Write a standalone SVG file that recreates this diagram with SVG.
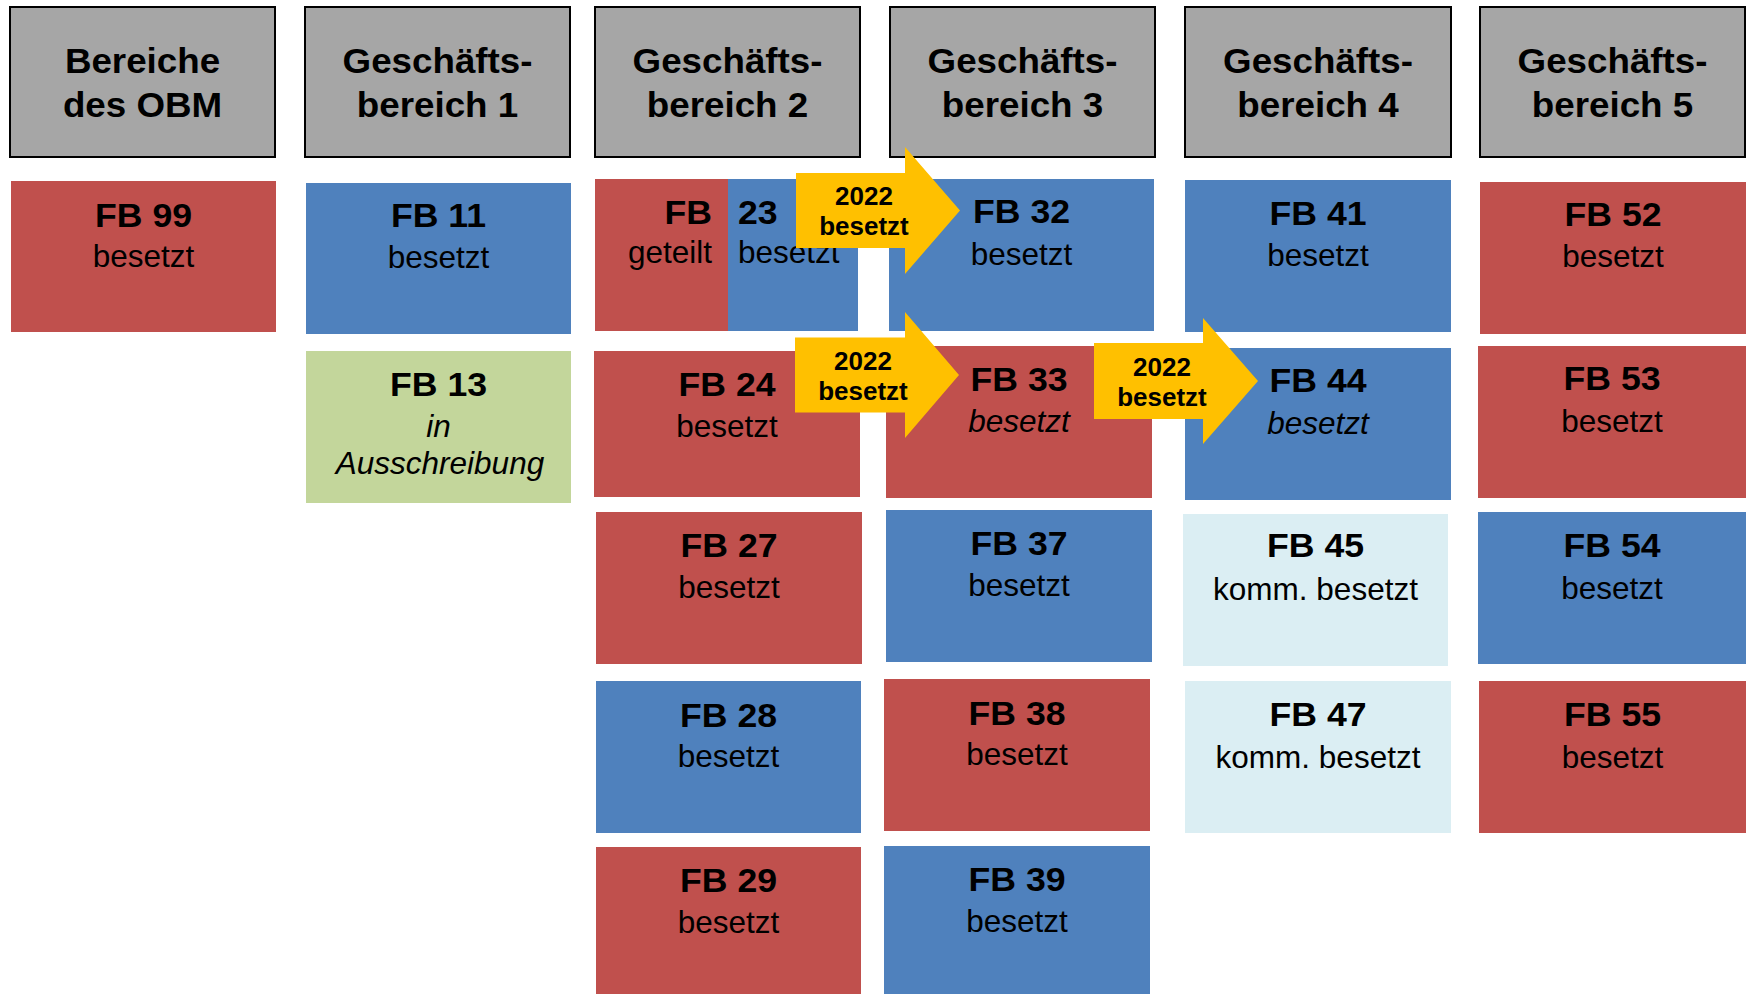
<svg xmlns="http://www.w3.org/2000/svg" width="1746" height="994" viewBox="0 0 1746 994">
<style>
text{font-family:"Liberation Sans",Arial,sans-serif;fill:#000}
.hdr{fill:#a6a6a6;stroke:#000;stroke-width:2}
.red{fill:#c0504d}.blue{fill:#4f81bd}.green{fill:#c3d69b}.lb{fill:#dbeef3}
.arr{fill:#ffc000}
.h{font-size:35px;font-weight:bold;text-anchor:middle}
.l{font-size:33px;font-weight:bold;text-anchor:middle}
.s{font-size:31.5px;text-anchor:middle}
.i{font-style:italic}
.a{font-size:26px;font-weight:bold;text-anchor:middle}
</style>
<rect width="1746" height="994" fill="#fff"/>
<g id="headers">
<g id="h-obm"><rect class="hdr" x="10" y="7" width="265" height="150"/>
<text class="h" transform="translate(142.5 0) scale(1.05 1)" y="73">Bereiche</text>
<text class="h" transform="translate(142.5 0) scale(1.05 1)" y="117">des OBM</text></g>
<g id="h-gb1"><rect class="hdr" x="305" y="7" width="265" height="150"/>
<text class="h" transform="translate(437.5 0) scale(1.05 1)" y="73">Geschäfts-</text>
<text class="h" transform="translate(437.5 0) scale(1.05 1)" y="117">bereich 1</text></g>
<g id="h-gb2"><rect class="hdr" x="595" y="7" width="265" height="150"/>
<text class="h" transform="translate(727.5 0) scale(1.05 1)" y="73">Geschäfts-</text>
<text class="h" transform="translate(727.5 0) scale(1.05 1)" y="117">bereich 2</text></g>
<g id="h-gb3"><rect class="hdr" x="890" y="7" width="265" height="150"/>
<text class="h" transform="translate(1022.5 0) scale(1.05 1)" y="73">Geschäfts-</text>
<text class="h" transform="translate(1022.5 0) scale(1.05 1)" y="117">bereich 3</text></g>
<g id="h-gb4"><rect class="hdr" x="1185" y="7" width="266" height="150"/>
<text class="h" transform="translate(1318 0) scale(1.05 1)" y="73">Geschäfts-</text>
<text class="h" transform="translate(1318 0) scale(1.05 1)" y="117">bereich 4</text></g>
<g id="h-gb5"><rect class="hdr" x="1480" y="7" width="265" height="150"/>
<text class="h" transform="translate(1612.5 0) scale(1.05 1)" y="73">Geschäfts-</text>
<text class="h" transform="translate(1612.5 0) scale(1.05 1)" y="117">bereich 5</text></g>
</g>
<g id="nodes">
<g id="fb99"><rect class="red" x="11" y="181" width="265" height="151"/>
<text class="l" transform="translate(143.5 0) scale(1.08 1)" y="227">FB 99</text>
<text class="s" x="143.5" y="267">besetzt</text></g>
<g id="fb11"><rect class="blue" x="306" y="183" width="265" height="151"/>
<text class="l" transform="translate(438.5 0) scale(1.08 1)" y="227">FB 11</text>
<text class="s" x="438.5" y="268">besetzt</text></g>
<g id="fb13"><rect class="green" x="306" y="351" width="265" height="152"/>
<text class="l" transform="translate(438.5 0) scale(1.08 1)" y="396">FB 13</text>
<text class="s i" x="438.5" y="437">in</text>
<text class="s i" x="440" y="474">Ausschreibung</text></g>
<g id="fb23"><rect class="red" x="595" y="179" width="133" height="152"/>
<rect class="blue" x="728" y="179" width="130" height="152"/>
<text class="l" transform="translate(712 0) scale(1.08 1)" y="224" style="text-anchor:end">FB</text>
<text class="l" transform="translate(738 0) scale(1.08 1)" y="224" style="text-anchor:start">23</text>
<text class="s" x="712" y="263" style="text-anchor:end">geteilt</text>
<text class="s" x="738" y="263" style="text-anchor:start">besetzt</text></g>
<g id="fb24"><rect class="red" x="594" y="351" width="266" height="146"/>
<text class="l" transform="translate(727 0) scale(1.08 1)" y="396">FB 24</text>
<text class="s" x="727" y="437">besetzt</text></g>
<g id="fb27"><rect class="red" x="596" y="512" width="266" height="152"/>
<text class="l" transform="translate(729 0) scale(1.08 1)" y="557">FB 27</text>
<text class="s" x="729" y="598">besetzt</text></g>
<g id="fb28"><rect class="blue" x="596" y="681" width="265" height="152"/>
<text class="l" transform="translate(728.5 0) scale(1.08 1)" y="727">FB 28</text>
<text class="s" x="728.5" y="767">besetzt</text></g>
<g id="fb29"><rect class="red" x="596" y="847" width="265" height="147"/>
<text class="l" transform="translate(728.5 0) scale(1.08 1)" y="892">FB 29</text>
<text class="s" x="728.5" y="933">besetzt</text></g>
<g id="fb32"><rect class="blue" x="889" y="179" width="265" height="152"/>
<text class="l" transform="translate(1021.5 0) scale(1.08 1)" y="223">FB 32</text>
<text class="s" x="1021.5" y="265">besetzt</text></g>
<g id="fb33"><rect class="red" x="886" y="346" width="266" height="152"/>
<text class="l" transform="translate(1019 0) scale(1.08 1)" y="391">FB 33</text>
<text class="s i" x="1019" y="432">besetzt</text></g>
<g id="fb37"><rect class="blue" x="886" y="510" width="266" height="152"/>
<text class="l" transform="translate(1019 0) scale(1.08 1)" y="555">FB 37</text>
<text class="s" x="1019" y="596">besetzt</text></g>
<g id="fb38"><rect class="red" x="884" y="679" width="266" height="152"/>
<text class="l" transform="translate(1017 0) scale(1.08 1)" y="725">FB 38</text>
<text class="s" x="1017" y="765">besetzt</text></g>
<g id="fb39"><rect class="blue" x="884" y="846" width="266" height="148"/>
<text class="l" transform="translate(1017 0) scale(1.08 1)" y="891">FB 39</text>
<text class="s" x="1017" y="932">besetzt</text></g>
<g id="fb41"><rect class="blue" x="1185" y="180" width="266" height="152"/>
<text class="l" transform="translate(1318 0) scale(1.08 1)" y="225">FB 41</text>
<text class="s" x="1318" y="266">besetzt</text></g>
<g id="fb44"><rect class="blue" x="1185" y="348" width="266" height="152"/>
<text class="l" transform="translate(1318 0) scale(1.08 1)" y="392">FB 44</text>
<text class="s i" x="1318" y="434">besetzt</text></g>
<g id="fb45"><rect class="lb" x="1183" y="514" width="265" height="152"/>
<text class="l" transform="translate(1315.5 0) scale(1.08 1)" y="557">FB 45</text>
<text class="s" x="1315.5" y="600">komm. besetzt</text></g>
<g id="fb47"><rect class="lb" x="1185" y="681" width="266" height="152"/>
<text class="l" transform="translate(1318 0) scale(1.08 1)" y="726">FB 47</text>
<text class="s" x="1318" y="768">komm. besetzt</text></g>
<g id="fb52"><rect class="red" x="1480" y="182" width="266" height="152"/>
<text class="l" transform="translate(1613 0) scale(1.08 1)" y="226">FB 52</text>
<text class="s" x="1613" y="267">besetzt</text></g>
<g id="fb53"><rect class="red" x="1478" y="346" width="268" height="152"/>
<text class="l" transform="translate(1612 0) scale(1.08 1)" y="390">FB 53</text>
<text class="s" x="1612" y="432">besetzt</text></g>
<g id="fb54"><rect class="blue" x="1478" y="512" width="268" height="152"/>
<text class="l" transform="translate(1612 0) scale(1.08 1)" y="557">FB 54</text>
<text class="s" x="1612" y="599">besetzt</text></g>
<g id="fb55"><rect class="red" x="1479" y="681" width="267" height="152"/>
<text class="l" transform="translate(1612.5 0) scale(1.08 1)" y="726">FB 55</text>
<text class="s" x="1612.5" y="768">besetzt</text></g>
</g>
<g id="connectors">
<g id="arrow-23-32"><path class="arr" d="M796,173 H905 V147 L960,210.5 L905,274 V248 H796 Z"/>
<text class="a" x="864" y="205">2022</text>
<text class="a" x="864" y="235">besetzt</text></g>
<g id="arrow-24-33"><path class="arr" d="M795,337.5 H905 V312 L959,375 L905,438 V412.5 H795 Z"/>
<text class="a" x="863" y="369.5">2022</text>
<text class="a" x="863" y="399.5">besetzt</text></g>
<g id="arrow-33-44"><path class="arr" d="M1094,343 H1203 V318 L1258,381 L1203,444 V419 H1094 Z"/>
<text class="a" x="1162" y="375.5">2022</text>
<text class="a" x="1162" y="405.5">besetzt</text></g>
</g>
</svg>
